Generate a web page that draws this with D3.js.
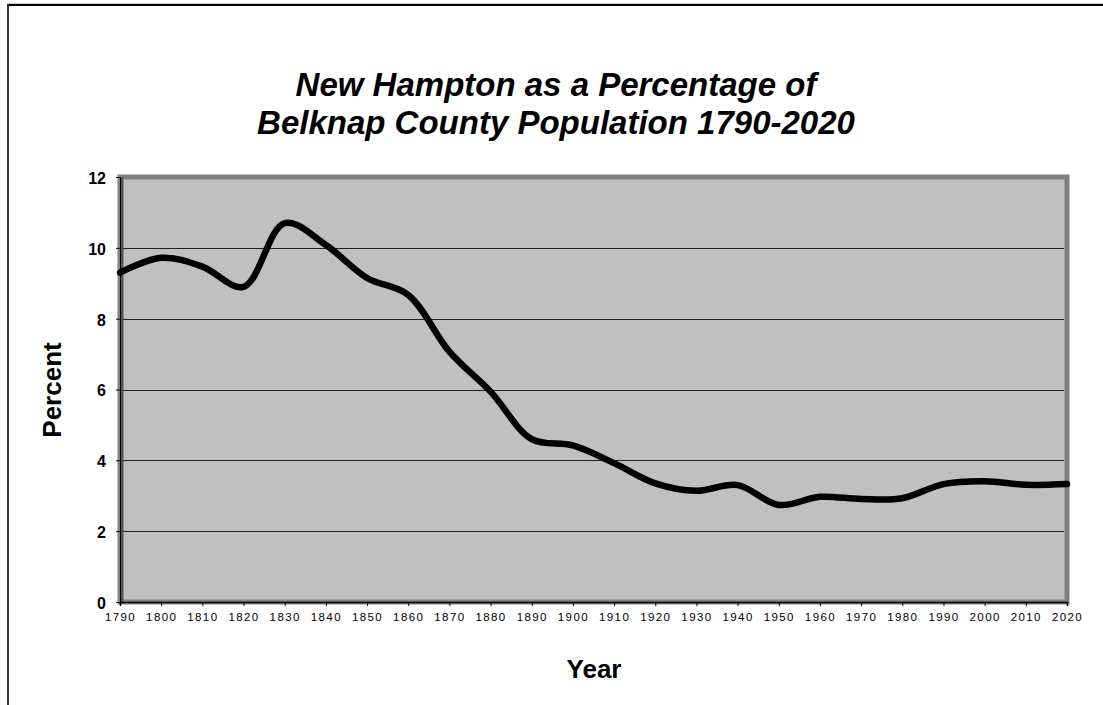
<!DOCTYPE html>
<html>
<head>
<meta charset="utf-8">
<script src="https://cdn.jsdelivr.net/npm/d3@7"></script>
<style>
  body { margin: 0; background: #fff; }
  text { font-family: Arial, "Liberation Sans", sans-serif; }
</style>
</head>
<body>
<div id="chart"></div>
<script>
// New Hampton share of Belknap County population, by census year
const years = [1790, 1800, 1810, 1820, 1830, 1840, 1850, 1860, 1870, 1880, 1890, 1900,
               1910, 1920, 1930, 1940, 1950, 1960, 1970, 1980, 1990, 2000, 2010, 2020];
const percent = [9.3, 9.72, 9.47, 8.9, 10.7, 10.08, 9.15, 8.67, 7.07, 5.94, 4.6, 4.42,
                 3.92, 3.35, 3.14, 3.3, 2.74, 2.97, 2.91, 2.93, 3.33, 3.41, 3.31, 3.33];
const yTicks = [0, 2, 4, 6, 8, 10, 12];
const xTicks = d3.range(1790, 2021, 10);
const titleLines = ["New Hampton as a Percentage of", "Belknap County Population 1790-2020"];

(function(){
    const svgWidth = 1103;
    const svgHeight = 705;
    const margin = { top: 177, right: 36, bottom: 103, left: 120 };
    const width = svgWidth - margin.left - margin.right;
    const height = svgHeight - margin.top - margin.bottom;

    const svg = d3.select("#chart")
        .append("svg")
        .attr("width", svgWidth)
        .attr("height", svgHeight);

    // outer chart frame (only top and left edges are visible)
    svg.append("line")
        .attr("x1", 7).attr("x2", svgWidth).attr("y1", 3.5).attr("y2", 3.5)
        .attr("stroke", "#ccc").attr("stroke-width", 1);
    svg.append("line")
        .attr("x1", 7).attr("x2", svgWidth).attr("y1", 5).attr("y2", 5)
        .attr("stroke", "#000").attr("stroke-width", 2);
    svg.append("line")
        .attr("x1", 8).attr("x2", 8).attr("y1", 4).attr("y2", svgHeight)
        .attr("stroke", "#333").attr("stroke-width", 2);

    // title
    svg.append("text")
        .attr("x", 556)
        .attr("y", 96)
        .style("text-anchor", "middle")
        .style("font-weight", "bold")
        .style("font-style", "italic")
        .style("font-size", "33px")
        .selectAll("tspan")
        .data(titleLines)
        .enter().append("tspan")
        .attr("x", 556)
        .attr("dy", (d, i) => i === 0 ? 0 : 38)
        .text(d => d);

    const chartGroup = svg.append("g")
        .attr("transform", `translate(${margin.left}, ${margin.top})`);

    const xScale = d3.scaleLinear()
        .domain([1790, 2020])
        .range([0, width]);

    const yScale = d3.scaleLinear()
        .domain([0, 12])
        .range([height, 0]);

    // plot area with grey walls
    chartGroup.append("rect")
        .attr("x", 0).attr("y", 0)
        .attr("width", width).attr("height", height)
        .attr("fill", "#c0c0c0")
        .attr("stroke", "#808080")
        .attr("stroke-width", 5);
    chartGroup.append("line")
        .attr("x1", 2).attr("x2", 2).attr("y1", 0).attr("y2", height)
        .attr("stroke", "#555").attr("stroke-width", 3);

    // gridlines
    chartGroup.append("g")
        .selectAll("line")
        .data(yTicks.filter(d => d > 0 && d < 12))
        .enter().append("line")
        .attr("x1", 3).attr("x2", width - 3)
        .attr("y1", d => Math.round(yScale(d)) + 0.5)
        .attr("y2", d => Math.round(yScale(d)) + 0.5)
        .attr("stroke", "#222")
        .attr("stroke-width", 1);

    // axes
    const xAxis = d3.axisBottom(xScale)
        .tickValues(xTicks)
        .tickFormat(d3.format("d"))
        .tickSize(4)
        .tickPadding(7);
    const yAxis = d3.axisLeft(yScale)
        .tickValues(yTicks)
        .tickSize(4)
        .tickPadding(10);

    const gx = chartGroup.append("g")
        .attr("transform", `translate(0, ${height})`)
        .call(xAxis)
        .attr("font-size", 11.5);
    gx.select(".domain").attr("stroke", "#000").attr("stroke-width", 1.5);
    gx.selectAll(".tick text")
        .attr("fill", "#000")
        .attr("letter-spacing", "1.4px");

    const gy = chartGroup.append("g")
        .call(yAxis)
        .attr("font-size", 16)
        .attr("font-weight", "bold");
    gy.select(".domain").attr("stroke", "#000").attr("stroke-width", 1);
    gy.selectAll(".tick text")
        .attr("fill", "#000")
        .attr("dy", "0.4em");

    // data line
    const line = d3.line()
        .x((d, i) => xScale(years[i]))
        .y(d => yScale(d))
        .curve(d3.curveCatmullRom.alpha(0.5));

    chartGroup.append("path")
        .datum(percent)
        .attr("d", line)
        .attr("fill", "none")
        .attr("stroke", "#000")
        .attr("stroke-width", 6.5)
        .attr("stroke-linecap", "round")
        .attr("stroke-linejoin", "round");

    // axis titles
    svg.append("text")
        .attr("transform", "rotate(-90)")
        .attr("x", -390)
        .attr("y", 61)
        .style("text-anchor", "middle")
        .style("font-weight", "bold")
        .style("font-size", "26px")
        .text("Percent");

    svg.append("text")
        .attr("x", 594)
        .attr("y", 678)
        .style("text-anchor", "middle")
        .style("font-weight", "bold")
        .style("font-size", "26px")
        .text("Year");
})();
</script>
</body>
</html>
